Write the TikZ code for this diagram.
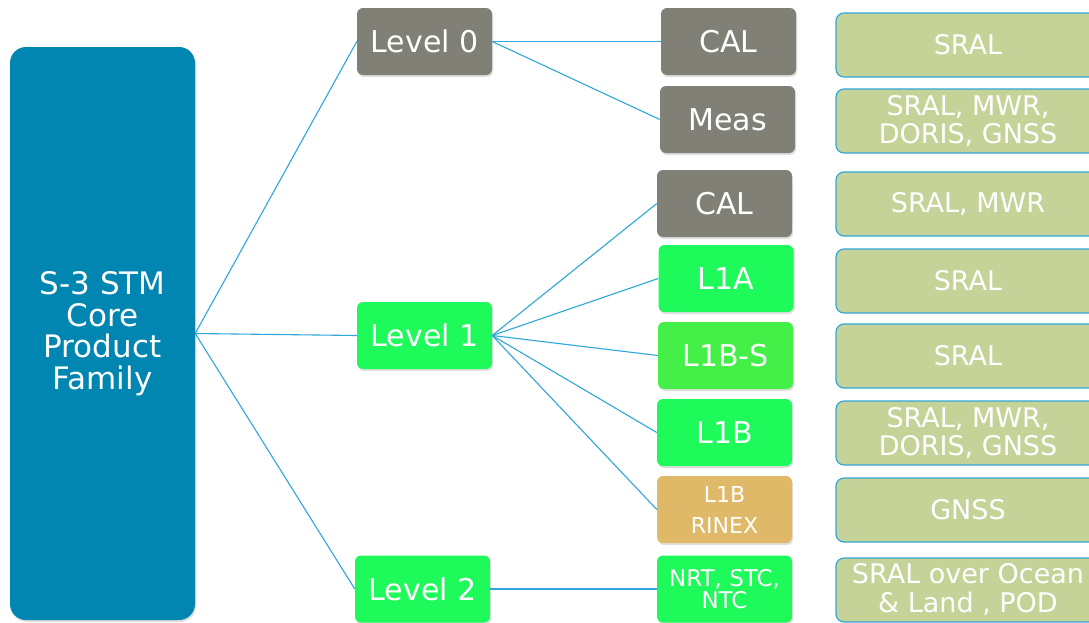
\documentclass[tikz,border=0pt]{standalone}
\usepackage{fontspec}
\setmainfont{DejaVu Sans}
\usetikzlibrary{shapes,shadows}
\definecolor{familyblue}{RGB}{0,134,176}
\definecolor{levelgrey}{RGB}{128,128,118}
\definecolor{levelgreen}{RGB}{30,250,90}
\definecolor{slicegreen}{RGB}{68,240,72}
\definecolor{rinextan}{RGB}{224,185,104}
\definecolor{instrolive}{RGB}{197,211,153}
\definecolor{linkblue}{RGB}{47,166,216}
\tikzstyle{box}=[rounded corners=6pt, text=white, align=center, minimum width=135pt, minimum height=67pt, inner sep=0pt, drop shadow={opacity=0.25, shadow xshift=1pt, shadow yshift=-2pt}, font=\fontsize{30}{31}\selectfont]
\tikzstyle{box-family}=[box, fill=familyblue, rounded corners=16pt, minimum width=185pt, minimum height=573pt, font=\fontsize{31}{31.5}\selectfont]
\tikzstyle{box-grey}=[box, fill=levelgrey]
\tikzstyle{box-green}=[box, fill=levelgreen]
\tikzstyle{box-slice}=[box, fill=slicegreen]
\tikzstyle{box-rinex}=[box, fill=rinextan, font=\fontsize{22}{31}\selectfont]
\tikzstyle{box-timeliness}=[box-green, font=\fontsize{23}{22}\selectfont]
\tikzstyle{box-instrument}=[rounded corners=8pt, draw=linkblue, line width=1.2pt, fill=instrolive, text=white, align=center, minimum width=264pt, minimum height=64pt, inner sep=0pt, font=\fontsize{27}{28}\selectfont]
\tikzstyle{link}=[draw=linkblue, line width=1.1pt]

\begin{document}
\begin{tikzpicture}[x=1pt, y=-1pt]
	\clip (0,0) rectangle (1089,622);
	% nodes
	 \node [box-family] (fam) at (102.5,333.5) {S-3 STM\\Core\\Product\\Family};

	 \node [box-grey] (l0) at (424.5,41.5) {Level 0};
	 \node [box-green] (l1) at (424.5,335.5) {Level 1};
	 \node [box-green] (l2) at (422.5,589) {Level 2};

	 \node [box-grey] (l0cal) at (728.5,41.5) {CAL};
	 \node [box-grey] (l0meas) at (727.5,119.5) {Meas};
	 \node [box-grey] (l1cal) at (724.5,203.5) {CAL};
	 \node [box-green] (l1a) at (726,278.5) {L1A};
	 \node [box-slice] (l1bs) at (725.5,355.5) {L1B-S};
	 \node [box-green] (l1b) at (724.5,432.5) {L1B};
	 \node [box-rinex] (rinex) at (724.5,509.5) {L1B\\RINEX};
	 \node [box-timeliness] (l2nrt) at (724.5,589) {NRT, STC,\\NTC};

	 \node [box-instrument] (i1) at (968,45) {SRAL};
	 \node [box-instrument] (i2) at (968,121) {SRAL, MWR,\\DORIS, GNSS};
	 \node [box-instrument] (i3) at (968,204) {SRAL, MWR};
	 \node [box-instrument] (i4) at (968,281) {SRAL};
	 \node [box-instrument] (i5) at (968,356) {SRAL};
	 \node [box-instrument] (i6) at (968,433) {SRAL, MWR,\\DORIS, GNSS};
	 \node [box-instrument] (i7) at (968,510) {GNSS};
	 \node [box-instrument, font=\fontsize{27}{29}\selectfont] (i8) at (968,590) {SRAL over Ocean\\\& Land , POD};

	 % links
	 \draw [link] (fam.east) -- (l0.west);
	 \draw [link] (fam.east) -- (l1.west);
	 \draw [link] (fam.east) -- (l2.west);

	 \draw [link] (l0.east) -- (l0cal.west);
	 \draw [link] (l0.east) -- (l0meas.west);

	 \draw [link] (l1.east) -- (l1cal.west);
	 \draw [link] (l1.east) -- (l1a.west);
	 \draw [link] (l1.east) -- (l1bs.west);
	 \draw [link] (l1.east) -- (l1b.west);
	 \draw [link] (l1.east) -- (rinex.west);

	 \draw [link] (l2.east) -- (l2nrt.west);
\end{tikzpicture}
\end{document}
